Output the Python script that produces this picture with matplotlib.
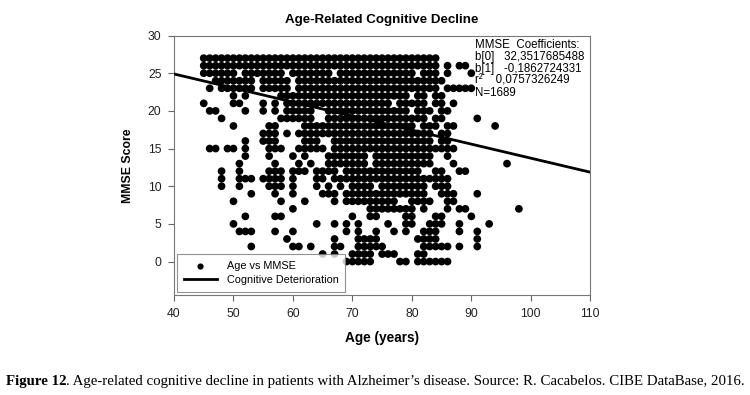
import numpy as np
import matplotlib
matplotlib.use('Agg')
import matplotlib.pyplot as plt

# MMSE score rows and the ages with a dot on each row
MMSE_ROWS = list(range(27, -1, -1))
AGE_RUNS = [
    "45-84",                                           # 27
    "45-84,86,88,89",                                  # 26
    "45-50,52-58,60-66,68-80,82-84,86,90",             # 25
    "47-53,55-59,61-85",                               # 24
    "46,48-53,55-59,61-84,86-90",                      # 23
    "50,52,58-79,81-82,84-85",                         # 22
    "45,50-51,55,57,59-76,78-82,84-85,87",             # 21
    "46-47,52,55,57,59-63,66-79,81-83,85-86",          # 20
    "48,58-63,66-82,84-85,91",                         # 19
    "50,56-57,62-80,82-84,86-87,94",                   # 18
    "55-57,59,61-83,85-86",                            # 17
    "52,55-57,62-64,67-83,85-86",                      # 16
    "46-47,49-50,52,56-58,61-65,67-87",                # 15
    "52,56,60,62,66-72,74-83,86",                      # 14
    "51,57,61,63,66-72,74-83,87,96",                   # 13
    "48,51,56-58,60-62,64-67,69-81,84-85,88-89",       # 12
    "48,51-53,55-58,60,64-65,67-86",                   # 11
    "48,51,56-58,60,64,66,68,70-73,75-82,84-86",       # 10
    "53,57,60,65-67,69-82,85-87,91",                   # 9
    "50,58,62,67,69-77,80-83,86-87",                   # 8
    "60,73-80,82,86,88-89,98",                         # 7
    "52,57-58,70,73-74,79-80,84-85,90",                # 6
    "50,64,67,69,71,76,79-80,83-85,88,93",             # 5
    "51-53,57,60,69,71,74,77,79,82-84,88,91",          # 4
    "59,67,71-74,81-84,91",                            # 3
    "53,60-61,63,67-68,71-75,82-86,88,91",             # 2
    "65,67,70-73,75-77,81-82",                         # 1
    "69-73,78-79,81-86",                               # 0
]

B0 = 32.3517685488
B1 = -0.1862724331
LINE_AGES = [40, 110]


def expand(runs):
    out = []
    for part in runs.split(","):
        if "-" in part:
            a, b = part.split("-")
            out.extend(range(int(a), int(b) + 1))
        else:
            out.append(int(part))
    return out


ages, scores = [], []
for m, runs in zip(MMSE_ROWS, AGE_RUNS):
    for a in expand(runs):
        ages.append(a)
        scores.append(m)

plt.rcParams['font.family'] = ['Liberation Sans', 'DejaVu Sans']

fig = plt.figure(figsize=(7.5, 3.95), dpi=100)
ax = fig.add_axes([0.232, 0.252, 0.555, 0.658])

ax.scatter(ages, scores, s=31, color='black', edgecolors='none',
           label='Age vs MMSE', zorder=3)
lx = np.array(LINE_AGES, dtype=float)
ax.plot(lx, B0 + B1 * lx, color='black', lw=2.0,
        label='Cognitive Deterioration', zorder=4)

ax.set_xlim(40, 110)
ax.set_ylim(-4.5, 30)
ax.set_xticks(range(40, 111, 10))
ax.set_yticks(range(0, 31, 5))
ax.tick_params(direction='out', length=4, width=0.8, color='#666666',
               labelsize=8.8, pad=5, labelcolor='#222222')
for sp in ax.spines.values():
    sp.set_color('#777777')
    sp.set_linewidth(0.8)

ax.set_xlabel('Age (years)', fontsize=9.8, fontweight='bold', labelpad=8)
ax.set_ylabel('MMSE Score', fontsize=8.8, fontweight='bold', labelpad=10)
ax.set_title('Age-Related Cognitive Decline', fontsize=9.6, fontweight='bold',
             pad=9)

leg = ax.legend(loc='lower left', fontsize=7.8, frameon=True, fancybox=False,
                borderpad=0.65, handlelength=3.0, handletextpad=0.9,
                labelspacing=0.35, borderaxespad=0.3, markerscale=0.8)
leg.set_zorder(10)
leg.get_frame().set_edgecolor('#777777')
leg.get_frame().set_linewidth(0.8)

stats = ("MMSE  Coefficients:\n"
         "b[0]   32,3517685488\n"
         "b[1]   -0,1862724331\n"
         "r\u00b2    0,0757326249\n"
         "N=1689")
ax.text(0.723, 0.985, stats, transform=ax.transAxes, fontsize=8.3,
        va='top', ha='left', linespacing=0.98, zorder=5)

caption = ('. Age-related cognitive decline in patients with Alzheimer\u2019s '
           'disease. Source: R. Cacabelos. CIBE DataBase, 2016.')
cap1 = fig.text(0.008, 0.025, 'Figure 12', fontsize=10.7, fontweight='bold',
                family='Liberation Serif', va='baseline')
plt.annotate(caption, xy=(1, 0), xycoords=cap1, va='bottom', fontsize=10.7,
             family='Liberation Serif', annotation_clip=False)

fig.savefig('out.png', dpi=100)
